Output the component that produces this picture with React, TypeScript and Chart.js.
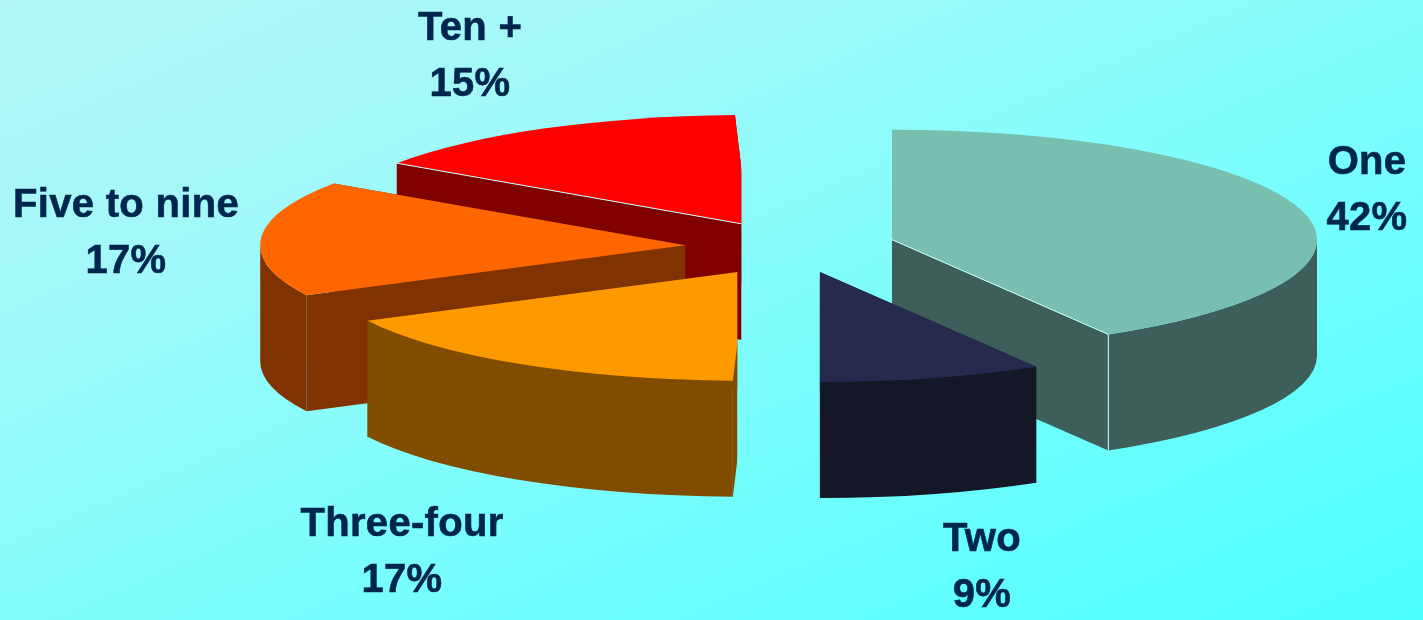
import React, { useEffect, useRef } from "react";
import { Chart, registerables } from "chart.js";

Chart.register(...registerables);

const categories = ["One", "Two", "Three-four", "Five to nine", "Ten +"];
const shares = [42, 9, 17, 17, 15];
const topColors = ["#78bfb0", "#262b4d", "#ff9900", "#ff6600", "#ff0000"];
const sideColors = ["#3e5f59", "#141726", "#804d00", "#803300", "#800000"];
const explodeOffsets = [101, 100, 91, 110, 97];
const apexLifts = [0, 0, 4, 0, 0];
// Slices next to the vertical axis are trimmed square: +1 keeps the right of the cut, -1 the left.
const squareCuts = [1, 1, -1, 0, -1];
const cutInsets = [0, 0, 9, 0, 7];
const paintOrder = [4, 3, 2, 0, 1];
const labelCentres = [
  [1367, 163],
  [982, 540],
  [402, 525],
  [126, 206],
  [470, 29],
];

const WIDTH = 1423;
const HEIGHT = 620;
const TILT = 110 / 425;
const DEPTH = 116;
const LINE_GAP = 56;
const TEXT_COLOR = "#00264d";
const EDGE_COLOR = "#c8ffff";

// Draws the pie as a tilted, extruded disc from the angles Chart.js computes.
const tiltedPie = {
  id: "tiltedPie",
  beforeDatasetDraw(chart: any) {
    const { ctx } = chart;
    const arcs = chart.getDatasetMeta(0).data;

    for (const i of paintOrder) {
      const arc = arcs[i];
      const mid = (arc.startAngle + arc.endAngle) / 2;
      const off = arc.options.offset;
      const r = arc.outerRadius;
      const ry = r * TILT;
      const ax = arc.x + Math.cos(mid) * off;
      const ay = arc.y + Math.sin(mid) * off * TILT + apexLifts[i];
      const rim = (a: number) => [ax + Math.cos(a) * r, ay + Math.sin(a) * ry];

      ctx.save();
      if (squareCuts[i]) {
        const cutX = ax + squareCuts[i] * cutInsets[i];
        ctx.beginPath();
        if (squareCuts[i] > 0) ctx.rect(cutX, 0, WIDTH - cutX, HEIGHT);
        else ctx.rect(0, 0, cutX, HEIGHT);
        ctx.clip();
      }

      // Cut faces running back to the apex.
      ctx.fillStyle = sideColors[i];
      for (const a of [arc.startAngle, arc.endAngle]) {
        const [x, y] = rim(a);
        ctx.beginPath();
        ctx.moveTo(ax, ay);
        ctx.lineTo(x, y);
        ctx.lineTo(x, y + DEPTH);
        ctx.lineTo(ax, ay + DEPTH);
        ctx.closePath();
        ctx.fill();
      }

      // Curved outer wall: only the front half of the rim faces the viewer.
      const wallStart = Math.max(arc.startAngle, 0);
      const wallEnd = Math.min(arc.endAngle, Math.PI);
      if (wallStart < wallEnd) {
        ctx.beginPath();
        ctx.ellipse(ax, ay, r, ry, 0, wallStart, wallEnd, false);
        ctx.ellipse(ax, ay + DEPTH, r, ry, 0, wallEnd, wallStart, true);
        ctx.closePath();
        ctx.fill();
      }

      // Top face.
      ctx.beginPath();
      ctx.moveTo(ax, ay);
      ctx.ellipse(ax, ay, r, ry, 0, arc.startAngle, arc.endAngle, false);
      ctx.closePath();
      ctx.fillStyle = topColors[i];
      ctx.fill();

      // Thin light edges along the cut faces of the first and last slices.
      if (i === 0 || i === 4) {
        const [x, y] = rim(i === 0 ? arc.endAngle : arc.startAngle);
        ctx.strokeStyle = EDGE_COLOR;
        ctx.lineWidth = 1;
        ctx.beginPath();
        ctx.moveTo(ax, ay);
        ctx.lineTo(x, y);
        if (i === 0) ctx.lineTo(x, y + DEPTH);
        ctx.stroke();
      }
      ctx.restore();
    }
    return false;
  },
  afterDatasetsDraw(chart: any) {
    const { ctx } = chart;
    ctx.save();
    ctx.fillStyle = TEXT_COLOR;
    ctx.strokeStyle = TEXT_COLOR;
    ctx.lineWidth = 0.6;
    ctx.font = 'bold 40px "Liberation Sans"';
    ctx.textAlign = "center";
    ctx.textBaseline = "middle";
    (ctx as any).letterSpacing = "0.3px";
    categories.forEach((name, i) => {
      const [x, y] = labelCentres[i];
      for (const [text, ty] of [[name, y], [`${shares[i]}%`, y + LINE_GAP]] as [string, number][]) {
        ctx.fillText(text, x, ty);
        ctx.strokeText(text, x, ty);
      }
    });
    ctx.restore();
  },
};

export default function App() {
  const canvasRef = useRef<HTMLCanvasElement>(null);

  useEffect(() => {
    const chart = new Chart(canvasRef.current as HTMLCanvasElement, {
      type: "pie",
      data: {
        labels: categories,
        datasets: [
          {
            data: shares,
            backgroundColor: topColors,
            borderWidth: 0,
            offset: explodeOffsets,
          },
        ],
      },
      options: {
        responsive: false,
        animation: false,
        rotation: -1.8,
        radius: 425,
        layout: { padding: { left: 167, bottom: 126 } },
        plugins: { legend: { display: false }, tooltip: { enabled: false } },
      },
      plugins: [tiltedPie],
    } as any);
    return () => chart.destroy();
  }, []);

  return (
    <div
      style={{
        position: "fixed",
        inset: 0,
        overflow: "hidden",
        background:
          "linear-gradient(to bottom right, #b3f7f7 0%, #a3f8f8 25%, #84fdfd 50%, #4dffff 100%)",
      }}
    >
      <canvas ref={canvasRef} width={WIDTH} height={HEIGHT} style={{ display: "block" }} />
    </div>
  );
}
